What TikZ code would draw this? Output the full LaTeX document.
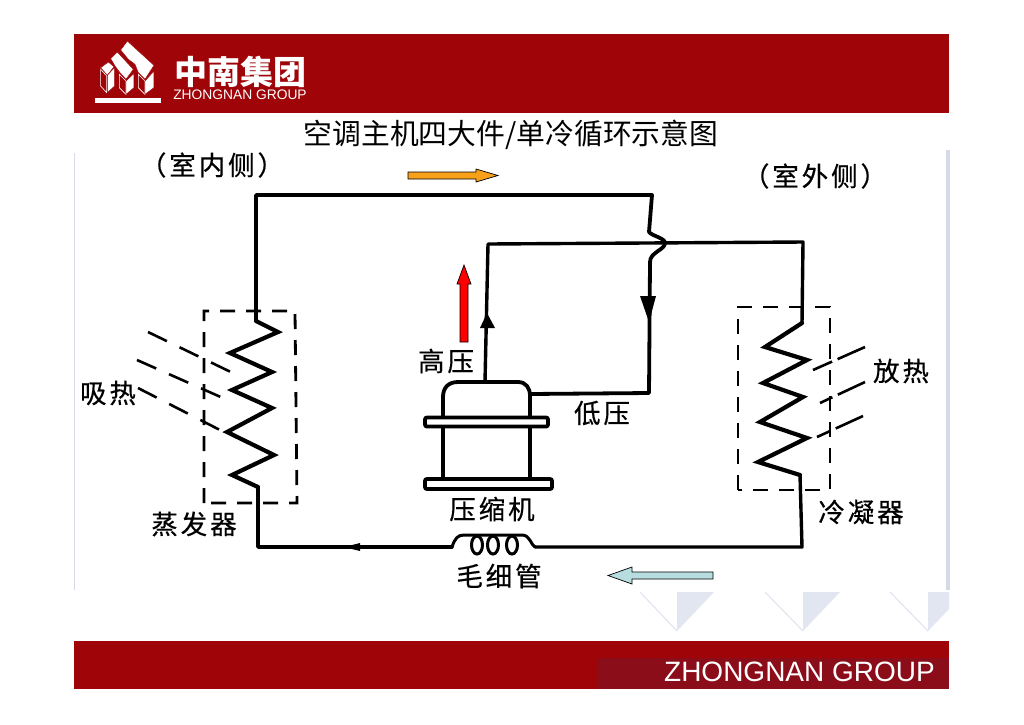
\documentclass[tikz,border=0pt]{standalone}
\usepackage{fontspec}
\setmainfont{Noto Sans CJK SC}
\newfontfamily\lab[LetterSpace=11,FakeBold=0.5]{Noto Sans CJK SC}
\newfontfamily\latin{Liberation Sans}
\usetikzlibrary{arrows.meta,calc,shapes.geometric}
\definecolor{bannerred}{HTML}{9E0408}
\definecolor{footdark}{HTML}{8B0D1A}
\definecolor{paleblue}{HTML}{E1E6F0}
\definecolor{edgeblue}{HTML}{D5DAE6}
\definecolor{orangefill}{HTML}{F7A11A}
\definecolor{tealfill}{HTML}{B7DDE0}
\tikzset{
  pipe/.style={line width=3.8pt,line join=round,line cap=round},
  coilpipe/.style={line width=4.2pt,line join=miter,line cap=round},
  dashbox/.style={line width=2.8pt,dash pattern=on 15pt off 11pt},
  ray/.style={line width=2.6pt,dash pattern=on 21pt off 14pt},
  plate/.style={draw,fill=white,line width=3.8pt,rounded corners=2pt},
  label/.style={font=\lab\fontsize{26.5}{27}\selectfont,inner sep=0pt},
  bigarrow/.style={draw=black,line width=.7pt,line join=miter},
  logo/.style={fill=white,draw=bannerred,line width=.5pt,line join=round},
  logoline/.style={draw=white,line width=.6pt}
}
\begin{document}
\begin{tikzpicture}[x=1pt,y=-1pt]
\useasboundingbox (0,0) rectangle (1024,724);
\fill[white] (0,0) rectangle (1024,724);
% frame
\fill[edgeblue] (73.5,153) rectangle (75,590);
\fill[edgeblue] (946,150) rectangle (949.5,590);
% banners
\fill[bannerred] (74,34) rectangle (949,113);
\fill[bannerred] (74,641) rectangle (949,689);
\fill[footdark] (597,658) rectangle (949,689);
% logo
\fill[white] (95,98) rectangle (161,103);
\begin{scope}[shift={(90,36)},x=.3333pt,y=-.3333pt]
  \draw[logo] (92,42) -- (112,15) -- (192,88) -- (165,130) -- (145,110) -- (135,85) -- (115,70) -- cycle;
  \draw[logo] (62,68) -- (82,48) -- (130,100) -- (108,130) -- (90,110) -- (75,90) -- cycle;
  \draw[logo] (32,95) -- (55,78) -- (72,92) -- (52,118) -- cycle;
  \draw[logoline] (32,100) -- (50,120) -- (50,170) -- (32,150) -- cycle;
  \draw[logo] (52,118) -- (74,94) -- (74,150) -- (52,170) -- cycle;
  \draw[logoline] (88,115) -- (108,135) -- (108,175) -- (88,155) -- cycle;
  \draw[logo] (108,135) -- (132,112) -- (132,155) -- (108,175) -- cycle;
  \draw[logoline] (145,115) -- (165,135) -- (165,175) -- (145,155) -- cycle;
  \draw[logo] (165,135) -- (192,105) -- (192,155) -- (165,175) -- cycle;
\end{scope}
\node[inner sep=0pt,white,font=\fontsize{33}{33}\selectfont\bfseries,text height=24pt,text depth=2pt] (logocn) at (240,73) {中南集团};
\node[inner sep=0pt,white,font=\latin\fontsize{13.8}{14}\selectfont,text height=9pt,text depth=0pt] (logoen) at (240,94.5) {ZHONGNAN GROUP};
% title
\node[inner sep=0pt,font=\fontsize{28.8}{29}\selectfont] (title) at (511,135) {空调主机四大件/单冷循环示意图};
% footer
\fill[paleblue] (677,592) -- (714,592) -- (677,631) -- cycle;
\fill[paleblue] (803,592) -- (840,592) -- (803,631) -- cycle;
\fill[paleblue] (928,592) -- (949,592) -- (949,609) -- (928,631) -- cycle;
\draw[paleblue,line width=1.2pt] (640,592) -- (677,631) (765,592) -- (803,631) (890,592) -- (928,631);
\node[inner sep=0pt,white,font=\latin\fontsize{28}{28}\selectfont] (footer) at (799.5,672) {ZHONGNAN GROUP};
% coordinates
\coordinate (tl) at (256,195);
\coordinate (tr) at (652,195);
\coordinate (hopa) at (649,232);
\coordinate (hopb) at (665,243);
\coordinate (hopc) at (650,262);
\coordinate (lowcorner) at (649,393);
\coordinate (hpcorner) at (488,244);
\coordinate (hpright) at (803,242);
\coordinate (bl) at (258,547);
\coordinate (br) at (802,547);
\coordinate (evaptop) at (256,321);
\coordinate (evapbot) at (258,487);
\coordinate (condtop) at (802,323);
\coordinate (condbot) at (800,475);
\coordinate (coilL) at (452,547);
\coordinate (coilR) at (535,547);
\coordinate (domeT) at (485,382);
\coordinate (domeR) at (530,394);
% pipes
\draw[pipe] (evaptop) -- (tl) -- (tr) -- (hopa) .. controls (652,236) and (665,238) .. (hopb) .. controls (665,250) and (650,252) .. (hopc) -- (lowcorner) -- (domeR);
\draw[pipe,line width=3.4pt] (domeT) -- (hpcorner) -- (hpright) -- (condtop);
\draw[pipe,line width=3.4pt] (coilL) -- (bl) -- (evapbot);
\draw[pipe,line width=3.4pt] (coilR) -- (br) -- (condbot);
% coil
\draw[line width=3pt,line cap=round] (coilL) .. controls (455,538) and (458,535) .. (464,535) -- (522,535) .. controls (530,535) and (531,545) .. (coilR);
\foreach \cx/\cn in {477/a,493/b,512/c}{
  \node[draw,line width=3pt,ellipse,minimum width=11pt,minimum height=18pt,inner sep=0pt] (coil\cn) at (\cx,545) {};
}
% evaporator
\draw[coilpipe] (evaptop) -- (278,332) -- (230,353) -- (272,372) -- (232,390) -- (272,408) -- (227,432) -- (274,455) -- (232,475) -- (evapbot);
\draw[dashbox] (204,503) -- (204,311) -- (295,311) -- (297,503) -- cycle;
% condenser
\draw[coilpipe] (condtop) -- (765,347) -- (807,360) -- (763,383) -- (803,397) -- (760,422) -- (807,438) -- (758,462) -- (condbot);
\draw[dashbox] (738,490) -- (738,307) -- (830,307) -- (830,490) -- cycle;
% heat rays
\draw[ray] (148,332) -- (237,375);
\draw[ray] (137,360) -- (232,402);
\draw[ray] (138,388) -- (220,430);
\draw[line width=2.6pt,dash pattern=on 30pt off 6pt] (865,347) -- (813,370);
\draw[line width=2.6pt,dash pattern=on 30pt off 6pt] (865,382) -- (820,403);
\draw[line width=2.6pt,dash pattern=on 30pt off 6pt] (863,416) -- (817,437);
% pipe arrowheads
\fill (640,296) -- (656,296) -- (649,322) -- cycle;
\fill (487,313) -- (495,328) -- (480,328) -- cycle;
\fill (344,547) -- (360,543) -- (360,551) -- cycle;
% compressor
\draw[line width=3.8pt,line join=round] (443,417) -- (443,397) .. controls (443,388) and (448,382) .. (458,382) -- (518,382) .. controls (526,382) and (530,388) .. (530,396) -- (530,417);
\draw[line width=3.8pt] (443,427) -- (443,478) (530,427) -- (530,478);
\node[plate,minimum width=123pt,minimum height=9pt,inner sep=0pt] (plateA) at (486.5,422) {};
\node[plate,minimum width=127pt,minimum height=10pt,inner sep=0pt] (plateB) at (488.5,484) {};
% block arrows
\draw[bigarrow,fill=red] (460,342) -- (460,284) -- (457,284) -- (464,265) -- (471,284) -- (468,284) -- (468,342) -- cycle;
\draw[bigarrow,fill=orangefill] (408,172) -- (476,172) -- (476,169) -- (498,175.5) -- (476,182) -- (476,179) -- (408,179) -- cycle;
\draw[bigarrow,fill=tealfill] (713,572) -- (632,572) -- (632,567) -- (608,575.5) -- (632,584) -- (632,579) -- (713,579) -- cycle;
% labels
\node[label] (indoor) at (212,165) {（室内侧）};
\node[label] (outdoor) at (815,176) {（室外侧）};
\node[label] (high) at (446,361) {高压};
\node[label] (low) at (602,413) {低压};
\node[label] (comp) at (492,509) {压缩机};
\node[label] (evap) at (194,524) {蒸发器};
\node[label] (cond) at (861,512) {冷凝器};
\node[label] (absorb) at (108,393) {吸热};
\node[label] (release) at (901,371) {放热};
\node[label] (capillary) at (499,576) {毛细管};
\end{tikzpicture}
\end{document}
